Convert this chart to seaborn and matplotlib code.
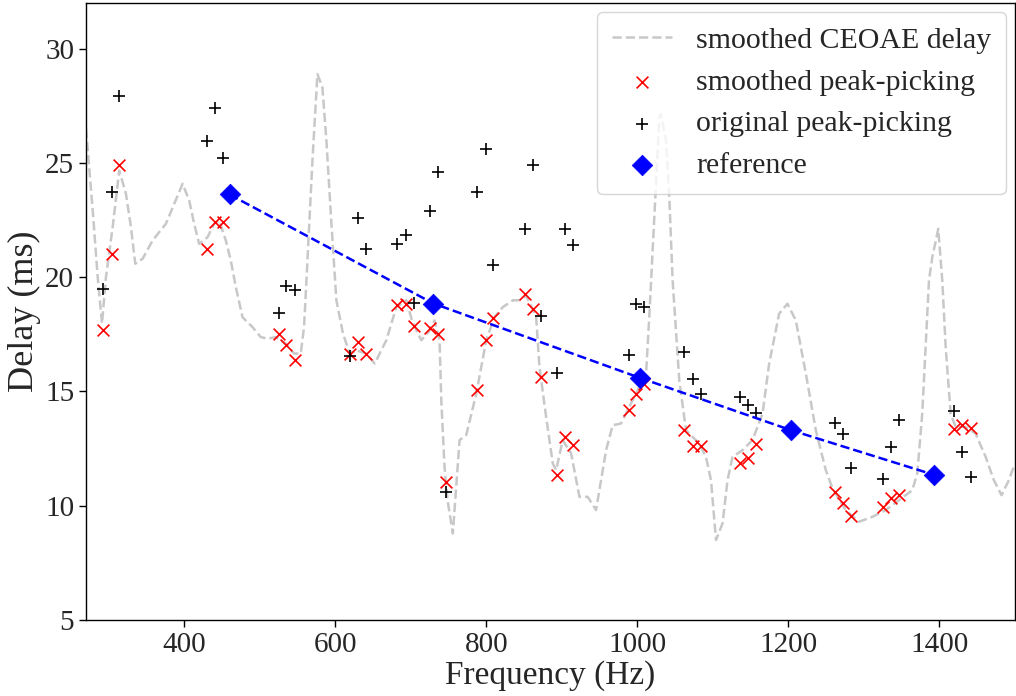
import numpy as np
import pandas as pd
import matplotlib
matplotlib.use("Agg")
import matplotlib.pyplot as plt
import seaborn as sns

# ---- data ----
curve_freq = [270, 278.9, 285.5, 291.2, 296.4, 305.3, 314.0, 322.9, 329.5, 335.2, 345.0, 358.2,
              375.8, 386.8, 397.9, 406.6, 413.2, 419.8, 430.9, 439.7, 446.3, 455.1, 461.7, 468.4,
              477.2, 490.4, 501.4, 510.3, 521.3, 534.5, 545.5, 554.3, 558.7, 563.2, 569.8, 576.4,
              583.0, 588.3, 594.7, 601.5, 610.3, 619.1, 628.0, 641.2, 652.2, 667.6, 680.9, 694.1,
              702.4, 713.9, 724.9, 731.5, 738.1, 740.4, 744.7, 748.7, 755.7, 764.6, 773.5, 786.7,
              799.9, 810.9, 821.8, 835.1, 843.9, 852.8, 866.0, 870.4, 879.2, 888.0, 892.5, 901.2,
              912.3, 923.3, 934.3, 945.3, 958.6, 967.3, 978.4, 989.4, 1000.4, 1011.5, 1015.8, 1022.5,
              1029.1, 1031.3, 1037.9, 1042.3, 1046.7, 1055.5, 1064.4, 1082.0, 1090.8, 1097.5, 1104.1,
              1112.8, 1119.4, 1126.0, 1139.2, 1152.4, 1165.7, 1174.5, 1187.7, 1198.7, 1209.8, 1223.1,
              1236.3, 1249.5, 1258.2, 1275.9, 1293.5, 1311.1, 1328.8, 1346.4, 1364.0, 1370.6, 1377.2,
              1381.7, 1386.1, 1390.5, 1398.4, 1403.7, 1408.2, 1414.8, 1421.4, 1434.6, 1447.8, 1461.1,
              1472.0, 1482.2, 1491.9, 1498.5]
curve_delay = [26.5, 22.92, 20.0, 17.97, 20.0, 22.19, 24.67, 23.65, 22.19, 20.59, 20.81, 21.61,
               22.34, 23.21, 24.09, 23.36, 22.34, 21.46, 21.75, 22.34, 22.48, 21.61, 20.73, 19.57,
               18.25, 17.82, 17.38, 17.31, 17.38, 17.09, 16.66, 16.66, 17.82, 20.73, 25.10, 28.89,
               28.31, 25.98, 22.48, 18.99, 17.53, 16.66, 16.80, 16.66, 16.22, 17.24, 18.69, 18.99,
               18.02, 17.24, 17.67, 18.11, 17.24, 14.62, 11.70, 10.24, 8.79, 12.87, 13.10, 14.90,
               17.24, 18.26, 18.69, 18.99, 18.99, 19.20, 18.26, 16.07, 13.89, 11.85, 11.56, 12.87,
               12.29, 10.39, 10.39, 9.81, 12.43, 13.52, 13.60, 14.32, 15.05, 15.78, 18.26, 22.63,
               27.0, 27.14, 25.98, 23.50, 19.86, 15.49, 13.30, 12.72, 12.14, 11.12, 8.50,
               9.23, 11.12, 12.14, 12.43, 12.87, 14.03, 16.22, 18.40, 18.84, 18.11, 15.78,
               13.30, 11.56, 10.77, 9.81, 9.30, 9.51, 9.81, 10.24, 10.68, 11.41, 14.03,
               16.94, 19.86, 20.88, 22.12, 19.86, 16.94, 14.03, 13.45, 13.45, 13.16, 12.14,
               11.12, 10.46, 11.12, 11.73]

peak_freq = [292.9, 304.0, 314.0, 430.0, 440.6, 451.6, 525.2, 535.4, 546.4, 619.8, 630.1, 641.2,
             681.9, 694.1, 704.1, 724.9, 735.8, 746.1, 788.0, 799.0, 809.5, 851.5, 861.5, 872.6,
             893.8, 904.4, 914.4, 988.5, 998.3, 1009.2, 1062.1, 1073.1, 1084.2, 1135.8, 1146.8, 1157.7,
             1261.4, 1272.4, 1283.4, 1325.3, 1335.9, 1346.4, 1419.6, 1430.2, 1441.3]
smoothed_peak = [17.67, 21.0, 24.92, 21.25, 22.4, 22.4, 17.53, 17.02, 16.36, 16.66, 17.16, 16.66,
                 18.77, 18.81, 17.85, 17.76, 17.53, 11.02, 15.07, 17.24, 18.23, 19.25, 18.59, 15.62,
                 11.34, 13.01, 12.65, 14.18, 14.88, 15.31, 13.30, 12.62, 12.62, 11.88, 12.07, 12.72,
                 10.61, 10.13, 9.55, 9.95, 10.32, 10.46, 13.38, 13.52, 13.40]
original_peak = [19.47, 23.75, 27.95, 25.98, 27.41, 25.21, 18.45, 19.6, 19.45, 16.54, 22.58, 21.25,
                 21.46, 21.83, 18.89, 22.89, 24.61, 10.58, 23.72, 25.62, 20.55, 22.12, 24.93, 18.29,
                 15.81, 22.09, 21.43, 16.61, 18.85, 18.69, 16.72, 15.56, 14.91, 14.76, 14.43, 14.08,
                 13.64, 13.13, 11.67, 11.19, 12.57, 13.77, 14.15, 12.36, 11.26]

ref_freq = [460, 730, 1003, 1204, 1393]
ref_delay = [23.62, 18.85, 15.6, 13.3, 11.35]

# ---- style ----
sns.set_theme(style="ticks")
plt.rcParams['font.family'] = ['Liberation Serif', 'DejaVu Serif']
plt.rcParams['mathtext.fontset'] = 'stix'

fig = plt.figure(figsize=(10.16, 6.96), dpi=100)
ax = fig.add_axes([86 / 1016, 1 - 620 / 696, (1015 - 86) / 1016, (620 - 3) / 696])

sns.lineplot(x=curve_freq, y=curve_delay, ax=ax, color='#c8c8c8', linestyle='--',
             linewidth=1.8, sort=False, label='smoothed CEOAE delay')
sns.scatterplot(x=peak_freq, y=smoothed_peak, ax=ax, marker='x', color='red', s=72,
                linewidth=1.2, label='smoothed peak-picking', zorder=3)
sns.scatterplot(x=peak_freq, y=original_peak, ax=ax, marker='+', color='black', s=80,
                linewidth=1.2, label='original peak-picking', zorder=3)
sns.lineplot(x=ref_freq, y=ref_delay, ax=ax, color='blue', linestyle='--', linewidth=1.8,
             sort=False, zorder=4)
sns.scatterplot(x=ref_freq, y=ref_delay, ax=ax, marker='D', color='blue', s=110,
                edgecolor='blue', linewidth=0.5, label='reference', zorder=5)

ax.set_xlim(270, 1500)
ax.set_ylim(5, 32)
ax.set_xticks([400, 600, 800, 1000, 1200, 1400])
ax.set_yticks([5, 10, 15, 20, 25, 30])
ax.tick_params(labelsize=21, length=5, width=1, direction='out', color='black')
ax.set_xlabel('Frequency (Hz)', fontsize=24, labelpad=2)
ax.set_ylabel('Delay (ms)', fontsize=26, labelpad=3)
for sp in ax.spines.values():
    sp.set_visible(True)
    sp.set_color('black')
    sp.set_linewidth(1.0)

leg = ax.legend(loc='upper right', fontsize=21.5, frameon=True, borderaxespad=0.3,
                labelspacing=0.5, borderpad=0.5)
leg.get_frame().set_edgecolor('#cccccc')

fig.savefig('out.png', dpi=100)
